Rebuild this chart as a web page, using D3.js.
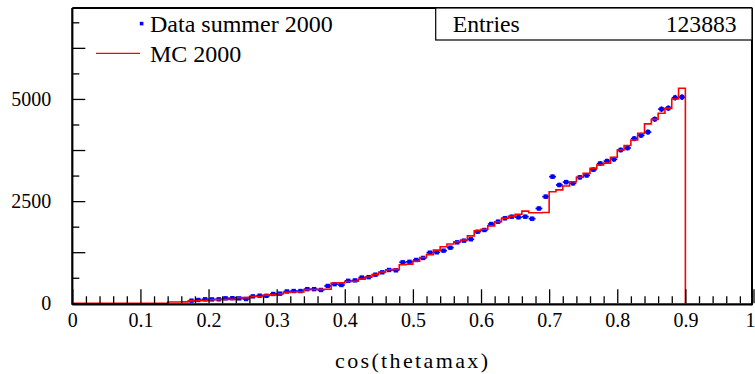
<!DOCTYPE html>
<html>
<head>
<meta charset="utf-8">
<script src="https://cdn.jsdelivr.net/npm/d3@7"></script>
</head>
<body style="margin:0">
<script>
// cos(thetamax) histogram, 100 bins of width 0.01 between 0 and 1
const binLowEdges = d3.range(100).map(i => i / 100);

// MC 2000 bin contents
const mcCounts = [
  0, 0, 0, 0, 0, 0, 0, 0, 0, 0,
  0, 0, 0, 0, 30, 32, 35, 60, 62, 66,
  88, 90, 92, 95, 135, 140, 165, 168, 200, 205,
  232, 268, 275, 280, 335, 338, 340, 345, 495, 500,
  535, 540, 592, 645, 705, 765, 820, 830, 945, 955,
  1030, 1120, 1190, 1300, 1385, 1450, 1505, 1550, 1650, 1775,
  1810, 1895, 1995, 2080, 2130, 2180, 2255, 2215, 2215, 2220,
  2730, 2775, 2870, 2975, 3085, 3180, 3300, 3385, 3430, 3575,
  3750, 3860, 3995, 4160, 4390, 4500, 4650, 4770, 5000, 5260,
  0, 0, 0, 0, 0, 0, 0, 0, 0, 0
];

// Data summer 2000 bin contents
const dataCounts = [
  0, 0, 0, 0, 0, 0, 0, 0, 0, 0,
  0, 0, 0, 0, 0, 0, 0, 64, 81, 98,
  95, 98, 122, 125, 120, 105, 170, 186, 183, 228,
  236, 290, 300, 300, 346, 346, 326, 424, 468, 448,
  550, 560, 630, 640, 700, 758, 815, 807, 1003, 1015,
  1060, 1110, 1239, 1248, 1288, 1361, 1492, 1533, 1566, 1752,
  1794, 1940, 1997, 2080, 2119, 2104, 2119, 2070, 2320, 2609,
  3098, 2895, 2965, 2936, 3082, 3130, 3270, 3420, 3480, 3524,
  3751, 3800, 4030, 4110, 4190, 4505, 4750, 4775, 5030, 5045,
  0, 0, 0, 0, 0, 0, 0, 0, 0, 0
];

const binWidth = 0.01;
const xMajorTicks = [0, 0.1, 0.2, 0.3, 0.4, 0.5, 0.6, 0.7, 0.8, 0.9, 1];
const yLabelTicks = [0, 2500, 5000];
const yMediumTicks = [1250, 3750, 6250];
const yMinorTicks = [625, 1875, 3125, 4375, 5625, 6875];
const legendLabels = ["Data summer 2000", "MC 2000"];
const statsLabel = "Entries";
const statsValue = "123883";
const xTitle = "cos(thetamax)";

const W = 755, H = 374;
const frame = { left: 72.3, right: 752, top: 8, bottom: 303.3 };
const FONT = "'Liberation Serif'";

const svg = d3.select("body").append("svg").attr("width", W).attr("height", H);
svg.append("rect").attr("width", W).attr("height", H).attr("fill", "#fff");

const x = d3.scaleLinear().domain([0, 1]).range([frame.left, 753.5]);
const y = d3.scaleLinear().domain([0, 7225]).range([frame.bottom, frame.top]);

// MC outline: step path up to the last filled bin, then down to zero
let lastBin = mcCounts.length - 1;
while (lastBin > 0 && mcCounts[lastBin] === 0) lastBin--;
const mcPoints = binLowEdges.slice(0, lastBin + 1).map((lo, i) => [lo, mcCounts[i]]);
mcPoints.push([binLowEdges[lastBin] + binWidth, 0]);
const stepLine = d3.line().x(d => x(d[0])).y(d => y(d[1])).curve(d3.curveStepAfter);

const plot = svg.append("g");

// data points with horizontal (bin width) and vertical (sqrt N) error bars
const dataBins = binLowEdges.map((lo, i) => ({ lo, n: dataCounts[i] })).filter(d => d.n > 0);
const blue = "#0000ff";
const pts = plot.append("g");
pts.selectAll("line.h").data(dataBins).join("line")
  .attr("x1", d => x(d.lo)).attr("x2", d => x(d.lo + binWidth))
  .attr("y1", d => y(d.n)).attr("y2", d => y(d.n))
  .attr("stroke", blue).attr("stroke-width", 1.7);
pts.selectAll("line.v").data(dataBins).join("line")
  .attr("x1", d => x(d.lo + binWidth / 2)).attr("x2", d => x(d.lo + binWidth / 2))
  .attr("y1", d => y(d.n - Math.sqrt(d.n))).attr("y2", d => y(d.n + Math.sqrt(d.n)))
  .attr("stroke", blue).attr("stroke-width", 1.7);
pts.selectAll("rect").data(dataBins).join("rect")
  .attr("x", d => x(d.lo + binWidth / 2) - 2.2).attr("y", d => y(d.n) - 2.2)
  .attr("width", 4.4).attr("height", 4.4).attr("fill", blue);

plot.append("path").attr("d", stepLine(mcPoints))
  .attr("fill", "none").attr("stroke", "#ff0000").attr("stroke-width", 1.6);

// axes: ticks point into the frame
const fmtX = d => String(+d.toFixed(1));
const xAxisMajor = d3.axisBottom(x).tickValues(xMajorTicks).tickSize(-14).tickPadding(9.5).tickFormat(fmtX);
const xMinor = d3.range(0, 50).map(i => i * 0.02).filter(v => Math.abs(v * 10 - Math.round(v * 10)) > 1e-6);
const xAxisMinor = d3.axisBottom(x).tickValues(xMinor).tickSize(-7).tickFormat("");

const gxMinor = svg.append("g").attr("transform", `translate(0,${frame.bottom})`).call(xAxisMinor);
const gx = svg.append("g").attr("transform", `translate(0,${frame.bottom})`).call(xAxisMajor);
[gx, gxMinor].forEach(g => {
  g.attr("font-family", null).attr("font-size", null);
  g.select(".domain").remove();
  g.selectAll("line").attr("stroke", "#000").attr("stroke-width", 1.3);
});
gx.selectAll("text").style("font-family", FONT).style("font-size", "20px").attr("fill", "#000");
// the last label sits at the very edge of the page
gx.selectAll("text").filter(d => d === 1).attr("text-anchor", "end").attr("x", 1.5);

const yAxisMajor = d3.axisLeft(y).tickValues(yLabelTicks).tickSize(-13).tickPadding(21).tickFormat(d3.format("d"));
const yAxisMed = d3.axisLeft(y).tickValues(yMediumTicks).tickSize(-13).tickFormat("");
const yAxisMinor = d3.axisLeft(y).tickValues(yMinorTicks).tickSize(-7).tickFormat("");
const gy = svg.append("g").attr("transform", `translate(${frame.left},0)`).call(yAxisMajor);
const gyMed = svg.append("g").attr("transform", `translate(${frame.left},0)`).call(yAxisMed);
const gyMinor = svg.append("g").attr("transform", `translate(${frame.left},0)`).call(yAxisMinor);
[gy, gyMed, gyMinor].forEach(g => {
  g.attr("font-family", null).attr("font-size", null);
  g.select(".domain").remove();
  g.selectAll("line").attr("stroke", "#000").attr("stroke-width", 1.3);
});
gy.selectAll("text").style("font-family", FONT).style("font-size", "20px").attr("fill", "#000");

// frame
svg.append("line").attr("x1", frame.left).attr("x2", frame.left).attr("y1", frame.top).attr("y2", frame.bottom + 1.5)
  .attr("stroke", "#000").attr("stroke-width", 2.2);
svg.append("line").attr("x1", frame.left).attr("x2", frame.right).attr("y1", frame.bottom + 1.1).attr("y2", frame.bottom + 1.1)
  .attr("stroke", "#000").attr("stroke-width", 2.2);
svg.append("line").attr("x1", frame.left).attr("x2", frame.right).attr("y1", frame.top).attr("y2", frame.top)
  .attr("stroke", "#000").attr("stroke-width", 2);
svg.append("line").attr("x1", frame.right).attr("x2", frame.right).attr("y1", frame.top).attr("y2", frame.bottom + 2)
  .attr("stroke", "#000").attr("stroke-width", 2);

// statistics box
svg.append("rect").attr("x", 435.7).attr("y", frame.top).attr("width", frame.right - 435.7).attr("height", 32)
  .attr("fill", "#fff").attr("stroke", "#000").attr("stroke-width", 1.2);
const label = (xPos, yPos, size, txt) => svg.append("text")
  .attr("x", xPos).attr("y", yPos)
  .style("font-family", FONT).style("font-size", size + "px")
  .attr("fill", "#000").text(txt);
label(452.7, 32.3, 23.7, statsLabel);
label(736.7, 32.3, 23.7, statsValue).attr("text-anchor", "end");

// legend
svg.append("rect").attr("x", 139.8).attr("y", 21.8).attr("width", 3.6).attr("height", 3.6).attr("fill", blue);
label(150, 31.7, 24, legendLabels[0]);
svg.append("line").attr("x1", 96).attr("x2", 140).attr("y1", 53.3).attr("y2", 53.3)
  .attr("stroke", "#ff0000").attr("stroke-width", 1.3);
label(150, 61.7, 24, legendLabels[1]);

// x-axis title
label(411.5, 368, 22, xTitle)
  .attr("text-anchor", "middle").attr("textLength", 153).attr("lengthAdjust", "spacing");
</script>
</body>
</html>
